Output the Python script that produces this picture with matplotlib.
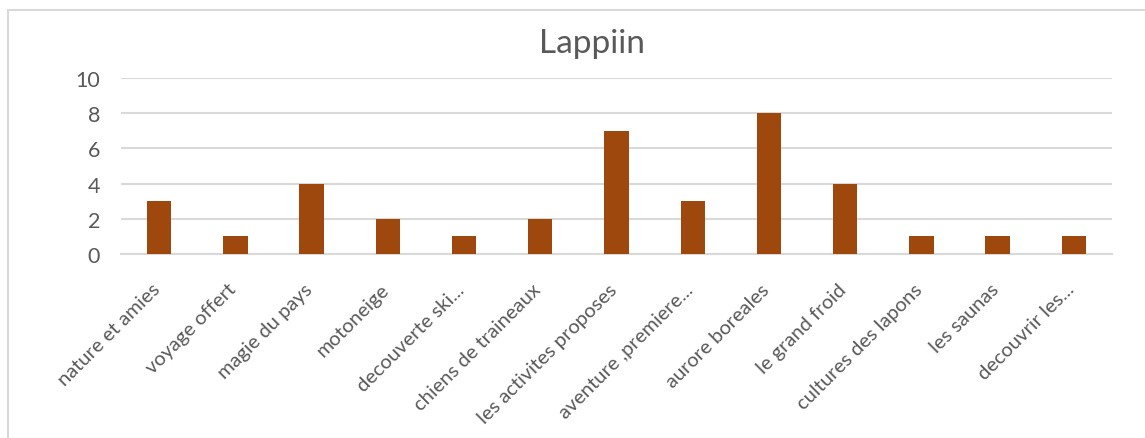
import matplotlib
matplotlib.use("Agg")
import matplotlib.pyplot as plt
from matplotlib.patches import Rectangle
from matplotlib.transforms import ScaledTranslation

categories = ["nature et amies", "voyage offert", "magie du pays", "motoneige",
              "decouverte ski...", "chiens de traineaux", "les activites proposes",
              "aventure ,premiere...", "aurore boreales", "le grand froid",
              "cultures des lapons", "les saunas", "decouvrir les..."]
values = [3, 1, 4, 2, 1, 2, 7, 3, 8, 4, 1, 1, 1]
y_ticks = [0, 2, 4, 6, 8, 10]
title = "Lappiin"

plt.rcParams['font.family'] = ['Lato', 'DejaVu Sans']
text_color = "#595959"
grid_color = "#D9D9D9"
bar_color = "#9E480E"

fig = plt.figure(figsize=(11.45, 4.39), dpi=100)
fig.patches.append(Rectangle((7.5 / 1145, -0.1), 1.2, (439 - 10.5) / 439 + 0.1,
                             transform=fig.transFigure, fill=False,
                             edgecolor=grid_color, linewidth=1.5, zorder=0))
ax = fig.add_axes([121 / 1145, 1 - 255 / 439, (1112 - 121) / 1145, (255 - 79) / 439])

x = list(range(len(categories)))
ax.bar(x, values, width=0.32, color=bar_color, zorder=3)
ax.set_xlim(-0.5, len(categories) - 0.5)
ax.set_ylim(0, 10)
ax.set_yticks(y_ticks)
ax.set_yticklabels([str(v) for v in y_ticks], fontsize=15.5, color=text_color)
ax.set_xticks(x)
ax.set_xticklabels(categories, rotation=45, ha='right', va='center',
                   rotation_mode='anchor', fontsize=14.5, color=text_color)
ax.tick_params(axis='both', length=0)
ax.tick_params(axis='y', pad=15)
ax.tick_params(axis='x', pad=16)
offset = ScaledTranslation(-2 / 100, -10 / 100, fig.dpi_scale_trans)
for lbl in ax.get_xticklabels():
    lbl.set_transform(lbl.get_transform() + offset)
for s in ['top', 'right', 'left']:
    ax.spines[s].set_visible(False)
ax.spines['bottom'].set_color(grid_color)
ax.spines['bottom'].set_linewidth(1.5)
ax.yaxis.grid(True, color=grid_color, linewidth=1.5, zorder=0)
ax.set_axisbelow(True)

fig.text(591.5 / 1145, 1 - 44 / 439, title, ha='center', va='center',
         fontsize=24, color=text_color)

fig.savefig("out.png", dpi=100)
